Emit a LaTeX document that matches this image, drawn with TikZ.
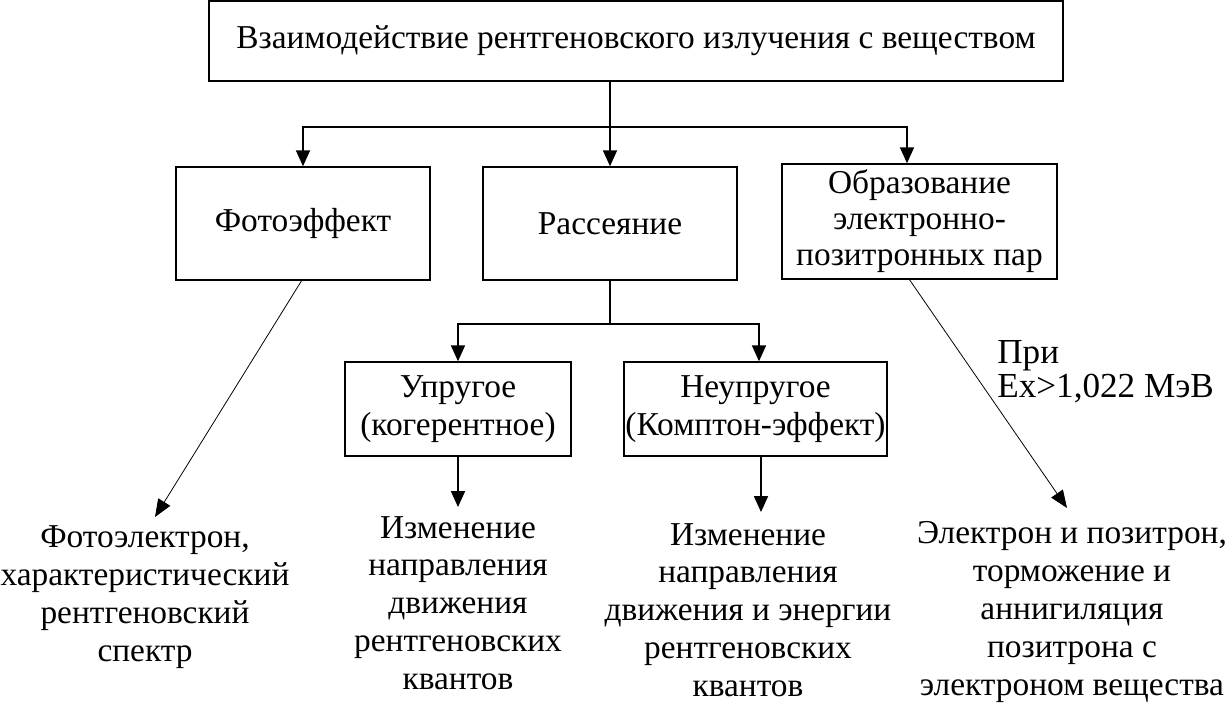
\documentclass[tikz,border=0pt]{standalone}
\usepackage{fontspec}
\setmainfont{Liberation Serif}
\usetikzlibrary{arrows.meta}
\newcommand\dfont{\fontsize{19}{21.5}\selectfont}
\begin{document}
\begin{tikzpicture}[x=0.02cm,y=-0.02cm,
  box/.style={draw,line width=0.9pt,inner sep=0pt,align=center,font=\dfont},
  txt/.style={align=center,font=\dfont,inner sep=0pt},
  arr/.style={line width=0.7pt,-{Triangle[length=9pt,width=8pt]}},
  ln/.style={line width=0.7pt},
  diag/.style={line width=0.45pt,-{Triangle[length=10pt,width=8pt]}}]
\useasboundingbox (0,0) rectangle (1228,703);
% boxes
\node[box,minimum width=17.08cm,minimum height=1.6cm] (top) at (636,41) {\raisebox{-0.08cm}{Взаимодействие рентгеновского излучения с веществом}};
\node[box,minimum width=5.08cm,minimum height=2.26cm] (b1) at (303,223.5) {Фотоэффект};
\node[box,minimum width=5.08cm,minimum height=2.26cm] (b2) at (610,223.5) {Рассеяние};
\node[box,minimum width=5.5cm,minimum height=2.3cm,font=\fontsize{19}{20.5}\selectfont] (b3) at (919.5,221.5) {Образование\\электронно-\\позитронных пар};
\node[box,minimum width=4.52cm,minimum height=1.88cm] (c1) at (458,409) {Упругое\\(когерентное)};
\node[box,minimum width=5.26cm,minimum height=1.88cm] (c2) at (755.5,409) {Неупругое\\(Комптон-эффект)};
% result texts
\node[txt] (t1) at (145,597) {Фотоэлектрон,\\характеристический\\рентгеновский\\спектр};
\node[txt] (t2) at (458,603) {Изменение\\направления\\движения\\рентгеновских\\квантов};
\node[txt] (t3) at (748,610) {Изменение\\направления\\движения и энергии\\рентгеновских\\квантов};
\node[txt] (t4) at (1072,612) {Электрон и позитрон,\\торможение и\\аннигиляция\\позитрона с\\электроном вещества};
\node[txt,align=left,anchor=west,font=\fontsize{20}{19.5}\selectfont] (lab) at (997,372) {При\\Ex>1,022 МэВ};
% junctions
\coordinate (j1) at (610,127);
\coordinate (jl) at (303,127);
\coordinate (jr) at (907,127);
\coordinate (k1) at (610,324);
\coordinate (kl) at (458,324);
\coordinate (kr) at (759,324);
\coordinate (e1) at (155,517);
\coordinate (e2) at (458,507);
\coordinate (e3) at (761,512);
\coordinate (e4) at (1067,508);
\coordinate (s1) at (302,280);
\coordinate (s4) at (909,279);
% connectors
\draw[ln] (top.south -| j1) -- (j1);
\draw[arr] (j1) -- (b2.north -| j1);
\draw[arr] (j1) -- (jl) -- (b1.north -| jl);
\draw[arr] (j1) -- (jr) -- (b3.north -| jr);
\draw[ln] (b2.south -| k1) -- (k1);
\draw[arr] (k1) -- (kl) -- (c1.north -| kl);
\draw[arr] (k1) -- (kr) -- (c2.north -| kr);
\draw[arr] (c1.south -| e2) -- (e2);
\draw[arr] (c2.south -| e3) -- (e3);
\draw[diag] (s1) -- (e1);
\draw[diag] (s4) -- (e4);
\end{tikzpicture}
\end{document}
